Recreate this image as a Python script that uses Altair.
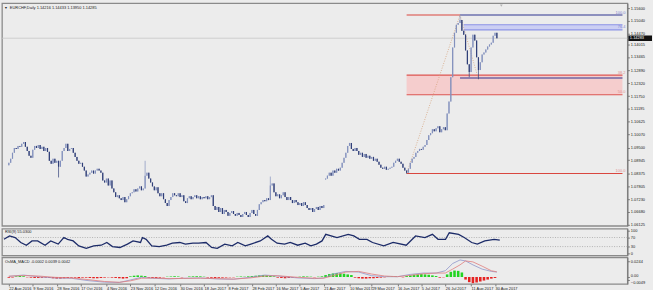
import altair as alt
import pandas as pd

FONT = "Liberation Sans"
BG = "#ececec"

# ---------------- data ----------------
closes = [
    1.0883, 1.0901, 1.0927, 1.0948, 1.0944, 1.0957, 1.0953, 1.0966, 1.0974, 1.0953,
    1.0935, 1.0914, 1.0905, 1.0940, 1.0957, 1.0948, 1.0961, 1.0944, 1.0953, 1.0935,
    1.0948, 1.0931, 1.0892, 1.0879, 1.0901, 1.0883, 1.0892, 1.0866, 1.0892, 1.0935,
    1.0948, 1.0966, 1.0935, 1.0944, 1.0948, 1.0927, 1.0909, 1.0892, 1.0879, 1.0883,
    1.0866, 1.0849, 1.0823, 1.0832, 1.0840, 1.0849, 1.0836, 1.0849, 1.0857, 1.0849,
    1.0840, 1.0806, 1.0797, 1.0814, 1.0784, 1.0806, 1.0771, 1.0754, 1.0733, 1.0741,
    1.0728, 1.0720, 1.0733, 1.0711, 1.0724, 1.0737, 1.0750, 1.0754, 1.0767, 1.0758,
    1.0771, 1.0780, 1.0763, 1.0771, 1.0827, 1.0840, 1.0814, 1.0797, 1.0780, 1.0763,
    1.0776, 1.0750, 1.0737, 1.0750, 1.0724, 1.0707, 1.0694, 1.0720, 1.0733, 1.0750,
    1.0741, 1.0737, 1.0750, 1.0733, 1.0741, 1.0715, 1.0707, 1.0728, 1.0737, 1.0724,
    1.0733, 1.0741, 1.0728, 1.0737, 1.0724, 1.0733, 1.0728, 1.0737, 1.0724, 1.0733,
    1.0741, 1.0694, 1.0677, 1.0690, 1.0668, 1.0685, 1.0659, 1.0677, 1.0668, 1.0651,
    1.0664, 1.0672, 1.0659, 1.0651, 1.0664, 1.0655, 1.0646, 1.0659, 1.0668, 1.0655,
    1.0646, 1.0664, 1.0677, 1.0659, 1.0651, 1.0677, 1.0702, 1.0711, 1.0720, 1.0715,
    1.0728, 1.0720, 1.0784, 1.0793, 1.0754, 1.0737, 1.0745, 1.0728, 1.0741, 1.0754,
    1.0733, 1.0720, 1.0733, 1.0720, 1.0707, 1.0720, 1.0711, 1.0698, 1.0707, 1.0694,
    1.0711, 1.0698, 1.0685, 1.0677, 1.0685, 1.0668, 1.0681, 1.0690, 1.0677, 1.0694,
    1.0685, 1.0698, 1.0814, 1.0827, 1.0840, 1.0827, 1.0849, 1.0840, 1.0857, 1.0849,
    1.0862, 1.0883, 1.0905, 1.0927, 1.0957, 1.0970, 1.0944, 1.0935, 1.0948, 1.0935,
    1.0918, 1.0927, 1.0909, 1.0922, 1.0905, 1.0914, 1.0901, 1.0909, 1.0892, 1.0901,
    1.0888, 1.0875, 1.0862, 1.0857, 1.0866, 1.0853, 1.0857, 1.0862, 1.0866, 1.0883,
    1.0892, 1.0901, 1.0888, 1.0879, 1.0862, 1.0849, 1.0840, 1.0857, 1.0883, 1.0901,
    1.0909, 1.0927, 1.0935, 1.0944, 1.0940, 1.0953, 1.0961, 1.0983, 1.1004, 1.1013,
    1.1030, 1.1021, 1.1034, 1.1043, 1.1017, 1.1030, 1.1039, 1.1026, 1.1099, 1.1151,
    1.1258, 1.1388, 1.1452, 1.1487, 1.1495, 1.1508, 1.1461, 1.1444, 1.1375, 1.1314,
    1.1280, 1.1388, 1.1444, 1.1418, 1.1345, 1.1289, 1.1323, 1.1357, 1.1366, 1.1379,
    1.1392, 1.1401, 1.1409, 1.1439, 1.1452, 1.1428,
]
first_open = 1.0872
gap_opens = {172: 1.0810}
wick_highs = {74: 1.0892, 142: 1.0823, 245: 1.1530}
wick_lows = {27: 1.0819, 216: 1.0836, 250: 1.1258, 255: 1.1249}

price_ticks = [1.15600, 1.15040, 1.14470, 1.14015, 1.13465, 1.12890, 1.12320, 1.11750,
               1.11195, 1.10625, 1.10070, 1.09500, 1.08945, 1.08375, 1.07805, 1.07230,
               1.06680, 1.06125]
current_price = 1.14283
title_main = "EURCHF,Daily  1.14216 1.14433 1.13950 1.14285"

# Fibonacci drawings (start bar, end bar, price, colour, label)
fib_lines_start = [216, 216, 216, 216, 245, 245, 247, 247]
fib_lines_end = [245, 333.2, 333.2, 333.2, 333.2, 333.2, 333.2, 333.2]
fib_lines_price = [1.1530, 1.0836, 1.1267, 1.1181, 1.1530, 1.1254, 1.1487, 1.1465]
fib_lines_color = ["#d9463f", "#d9463f", "#dc5550", "#dc5550", "#2e3590", "#2e3590", "#8c93e6", "#8c93e6"]
fib_label_price = [1.1530, 1.1465, 1.1267, 1.1181, 1.0836]
fib_label_text = ["100.0", "76.4", "38.2", "50.0", "100.0"]
fib_label_color = ["#7b82cf", "#7b82cf", "#e09090", "#e09090", "#e09090"]
band_start = [216, 247]
band_end = [333.2, 333.2]
band_top = [1.1267, 1.1487]
band_bottom = [1.1181, 1.1465]
band_fill = ["#f6caca", "#c9ccf4"]
diag_x0 = [216, 245]
diag_x1 = [245, 255]
diag_p0 = [1.0836, 1.1530]
diag_p1 = [1.1530, 1.1249]

rsi_idx = [0, 3, 6, 9, 12, 15, 18, 22, 25, 29, 32, 34, 37, 40, 44, 48, 52, 55, 58, 62,
           66, 69, 73, 74, 76, 79, 83, 87, 90, 94, 97, 101, 104, 108, 111, 114, 118, 122, 125, 129,
           132, 137, 141, 143, 146, 150, 153, 157, 161, 164, 167, 170, 172, 178, 184, 187, 190, 194, 197, 203,
           208, 215, 220, 225, 229, 232, 236, 238, 243, 246, 250, 253, 257, 262, 265]
rsi_val = [62, 77, 70, 48, 36, 55, 55, 36, 55, 41, 70, 62, 55, 33, 22, 33, 36, 48, 30, 26,
           41, 55, 48, 70, 62, 33, 30, 36, 45, 48, 41, 45, 45, 48, 26, 22, 41, 33, 48, 33,
           41, 55, 77, 62, 45, 41, 48, 36, 45, 33, 41, 55, 84, 70, 84, 77, 62, 62, 48, 33,
           48, 36, 77, 70, 84, 62, 62, 91, 84, 70, 48, 41, 55, 62, 58]
rsi_title = "RSI(9) 55.0300"

macd_idx = [0, 8, 16, 25, 34, 43, 52, 60, 66, 72, 78, 87, 95, 104, 113, 122, 131, 139, 146, 157,
            166, 171, 176, 183, 190, 197, 204, 211, 218, 225, 232, 237, 241, 245, 248, 252, 257, 262, 265]
macd_main = [10, 30, 5, -15, -20, -56, -80, -85, -46, -5, -20, -30, -20, -15, -30, -35, -5, 30, 15, -15,
             -25, -15, 46, 87, 76, 20, 5, 5, 40, 61, 61, 97, 209, 264, 249, 188, 122, 87, 76]
macd_signal = [12, 22, 15, -5, -15, -40, -70, -82, -60, -20, -15, -25, -22, -18, -25, -32, -15, 15, 20, -5,
               -20, -18, 20, 76, 87, 46, 15, 5, 25, 50, 61, 61, 122, 188, 249, 234, 168, 97, 80]
# histogram, one value every second bar, in units of 0.0001
osma_hist = [-10, -8, 10, 15, 12,
             -5, -10, -15, -15, -12, -10, -15, -20, -25, -25, -20, -15, -10, -10, -15, -10,
             -10, -15, -20, -20, -15, -10, -5, -10, -15, -20, -25, -20,
             10, 20, 25, 20, 15, -10, -15, -15, -10, -5, 5, 8, 12, 8, -5, 0,
             8, 10, 12, 10, 5, -8, -12, -15, -12, -10, -8, -5,
             -5, 5, 8, 5, 10, 15, 20, 25, 30, 25, 15, 10,
             -10, -15, -20, -15, -10, -5, 5, 10, 8, 5, -5, 5, 10,
             30, 45, 55, 60, 55, 50, 40, 30,
             -10, -20, -25, -25, -20, -20, -15, -10, -5,
             5, 8, 10, 5, -5,
             15, 25, 35, 40, 45, 40, 35, 25, 15,
             -10, -5, 40, 80, 100, 95, 70,
             -40, -80, -95, -85, -70, -55, -40, -25, -15]
macd_title = "OsMA_MACD -0.0002 0.0039 0.0042"

date_idx = [0, 13, 26, 39, 53, 66, 79, 93, 106, 119, 132, 145, 158, 171, 185, 197, 211, 224, 237, 251, 264]
date_lab = ["22 Aug 2016", "9 Sep 2016", "28 Sep 2016", "17 Oct 2016", "4 Nov 2016", "23 Nov 2016",
            "12 Dec 2016", "30 Dec 2016", "18 Jan 2017", "8 Feb 2017", "28 Feb 2017", "16 Mar 2017",
            "5 Apr 2017", "21 Apr 2017", "10 May 2017", "29 May 2017", "16 Jun 2017", "5 Jul 2017",
            "26 Jul 2017", "11 Aug 2017", "30 Aug 2017"]

# ---------------- tables ----------------
rows = []
for i, c in enumerate(closes):
    o = gap_opens.get(i, closes[i - 1] if i > 0 else first_open)
    hi = max(o, c, wick_highs.get(i, 0.0))
    lo = min(o, c, wick_lows.get(i, 9.0))
    rows.append(dict(idx=i, open=o, close=c, high=hi, low=lo, dir="up" if c >= o else "down"))
bars = pd.DataFrame(rows)

fib_lines = pd.DataFrame(dict(x0=fib_lines_start, x1=fib_lines_end, p=fib_lines_price, c=fib_lines_color))
fib_labels = pd.DataFrame(dict(p=fib_label_price, t=fib_label_text, c=fib_label_color))
bands = pd.DataFrame(dict(x0=band_start, x1=band_end, p0=band_top, p1=band_bottom, f=band_fill))
diags = pd.DataFrame(dict(x0=diag_x0, x1=diag_x1, p0=diag_p0, p1=diag_p1))
cur = pd.DataFrame(dict(p=[current_price], hi=[current_price + 0.0012], lo=[current_price - 0.0012],
                        t=[f"{current_price:.5f}"]))
rsi = pd.DataFrame(dict(idx=rsi_idx, v=rsi_val))
macd = pd.DataFrame(dict(idx=macd_idx + macd_idx,
                         v=[m / 10000 for m in macd_main] + [s / 10000 for s in macd_signal],
                         s=["main"] * len(macd_idx) + ["signal"] * len(macd_idx)))
hist = pd.DataFrame(dict(idx=[2 * k for k in range(len(osma_hist))],
                         v=[h / 10000 for h in osma_hist], z=[0.0] * len(osma_hist)))
hist["c"] = ["#22d422" if v >= 0 else "#e52222" for v in hist["v"]]

# ---------------- scales / axes ----------------
XS = alt.Scale(domain=[-1.05, 333.2], nice=False, zero=False)
YP = alt.Scale(domain=[1.06075, 1.15816], nice=False, zero=False)
YR = alt.Scale(domain=[-8.7, 108.7], nice=False, zero=False)
YM = alt.Scale(domain=[-0.0107, 0.0305], nice=False, zero=False)

ax_p = alt.Axis(orient="right", values=price_ticks, format=".5f", title=None, grid=False, labelOverlap=False)
ax_r = alt.Axis(orient="right", values=[0, 30, 70, 100], format="d", title=None, grid=False, labelOverlap=False)
ax_m = alt.Axis(orient="right", values=[-0.0049, 0.0, 0.0244], title=None, grid=False, labelOverlap=False,
                labelExpr="datum.value == 0 ? '0.00' : format(datum.value, '.4f')",
                labelBaseline={"condition": [{"test": "datum.value < 0", "value": "top"},
                                             {"test": "datum.value == 0", "value": "bottom"}],
                               "value": "middle"})
lab_js = "[" + ",".join("'" + s + "'" for s in date_lab) + "]"
idx_js = "[" + ",".join(str(v) for v in date_idx) + "]"
ax_x = alt.Axis(values=date_idx, labelExpr=f"{lab_js}[indexof({idx_js}, datum.value)]", title=None,
                grid=False, domain=False, labelAlign="left", labelBaseline="top", labelFlush=False,
                labelOverlap=False, labelPadding=1, tickSize=2)


def X(f):
    return alt.X(f, type="quantitative", scale=XS, axis=None)


def YPf(f):
    return alt.Y(f, type="quantitative", scale=YP, axis=ax_p)


W = 635

# ---------------- main panel ----------------
band_l = alt.Chart(bands).mark_rect(opacity=0.9).encode(
    x=X("x0"), x2="x1", y=YPf("p0"), y2="p1", color=alt.Color("f:N", scale=None))
cur_l = alt.Chart(cur).mark_rule(color="#c6c6c6", strokeWidth=0.8).encode(y=YPf("p"))
fib_l = alt.Chart(fib_lines).mark_rule(strokeWidth=1.1).encode(
    x=X("x0"), x2="x1", y=YPf("p"), color=alt.Color("c:N", scale=None))
diag_l = alt.Chart(diags).mark_rule(strokeDash=[1, 1.5], color="#d5a27c", strokeWidth=0.8).encode(
    x=X("x0"), x2="x1", y=YPf("p0"), y2="p1")
col = alt.Color("dir:N", scale=alt.Scale(domain=["up", "down"], range=["#8290bd", "#2f3e78"]), legend=None)
wick_l = alt.Chart(bars).mark_rule(strokeWidth=0.7).encode(x=X("idx"), y=YPf("low"), y2="high", color=col)
body_l = alt.Chart(bars).mark_bar(width=1.2).encode(x=X("idx"), y=YPf("open"), y2="close", color=col)
fibtxt_l = alt.Chart(fib_labels).mark_text(align="right", baseline="bottom", dy=-0.5, fontSize=4, font=FONT).encode(
    x=alt.value(633), y=YPf("p"), text="t:N", color=alt.Color("c:N", scale=None))
box_l = alt.Chart(cur).mark_rect(color="#111111").encode(
    x=alt.value(636), x2=alt.value(660), y=YPf("hi"), y2="lo")
boxt_l = alt.Chart(cur).mark_text(align="left", baseline="middle", fontSize=4, font=FONT, color="white").encode(
    x=alt.value(637.5), y=YPf("p"), text="t:N")
title_df = pd.DataFrame(dict(t=[title_main]))
tri_l = alt.Chart(title_df).mark_text(text="▼", fontSize=3.5, color="#222", baseline="middle").encode(
    x=alt.value(4), y=alt.value(5))
title_l = alt.Chart(title_df).mark_text(align="left", baseline="middle", fontSize=4, font=FONT, color="#222").encode(
    x=alt.value(8), y=alt.value(5), text="t:N")
shift_l = alt.Chart(title_df).mark_point(shape="triangle-down", size=8, filled=True, color="#9a9a9a").encode(
    x=alt.value(507), y=alt.value(2.5))

main = alt.layer(band_l, cur_l, fib_l, diag_l, wick_l, body_l, fibtxt_l, box_l, boxt_l,
                 tri_l, title_l, shift_l).properties(width=W, height=226)

# ---------------- RSI panel ----------------
lvl = pd.DataFrame(dict(v=[70, 30]))
rsi_lines = alt.Chart(lvl).mark_rule(color="#9a9a9a", strokeDash=[1, 1.5], strokeWidth=0.7).encode(
    y=alt.Y("v:Q", scale=YR, axis=ax_r))
rsi_l = alt.Chart(rsi).mark_line(color="#1c2b68", strokeWidth=1.3).encode(
    x=X("idx"), y=alt.Y("v:Q", scale=YR, axis=ax_r))
rsi_t = alt.Chart(pd.DataFrame(dict(t=[rsi_title]))).mark_text(
    align="left", baseline="middle", fontSize=4, font=FONT, color="#222").encode(
    x=alt.value(3), y=alt.value(3.5), text="t:N")
rsi_panel = alt.layer(rsi_lines, rsi_l, rsi_t).properties(width=W, height=27)

# ---------------- MACD panel ----------------
hist_l = alt.Chart(hist).mark_bar(width=2.6).encode(
    x=alt.X("idx:Q", scale=XS, axis=ax_x), y=alt.Y("v:Q", scale=YM, axis=ax_m), y2="z",
    color=alt.Color("c:N", scale=None))
macd_l = alt.Chart(macd).mark_line(strokeWidth=0.8).encode(
    x=alt.X("idx:Q", scale=XS, axis=ax_x), y=alt.Y("v:Q", scale=YM, axis=ax_m),
    color=alt.Color("s:N", scale=alt.Scale(domain=["main", "signal"], range=["#8d94c9", "#e07c7c"]), legend=None))
macd_t = alt.Chart(pd.DataFrame(dict(t=[macd_title]))).mark_text(
    align="left", baseline="middle", fontSize=4, font=FONT, color="#222").encode(
    x=alt.value(3), y=alt.value(4.5), text="t:N")
macd_panel = alt.layer(hist_l, macd_l, macd_t).properties(width=W, height=27)

chart = alt.vconcat(main, rsi_panel, macd_panel, spacing=0).resolve_scale(
    x="independent", y="independent", color="independent").properties(
    padding=0, background=BG).configure_view(
    stroke="#8a8a8a", strokeWidth=1.3, fill=BG).configure_axis(
    labelFont=FONT, labelFontSize=4, labelColor="#222", tickColor="#777", domainColor="#777",
    tickSize=2, labelPadding=1)

chart.save("out.html", embed_options={"renderer": "svg", "actions": False})
